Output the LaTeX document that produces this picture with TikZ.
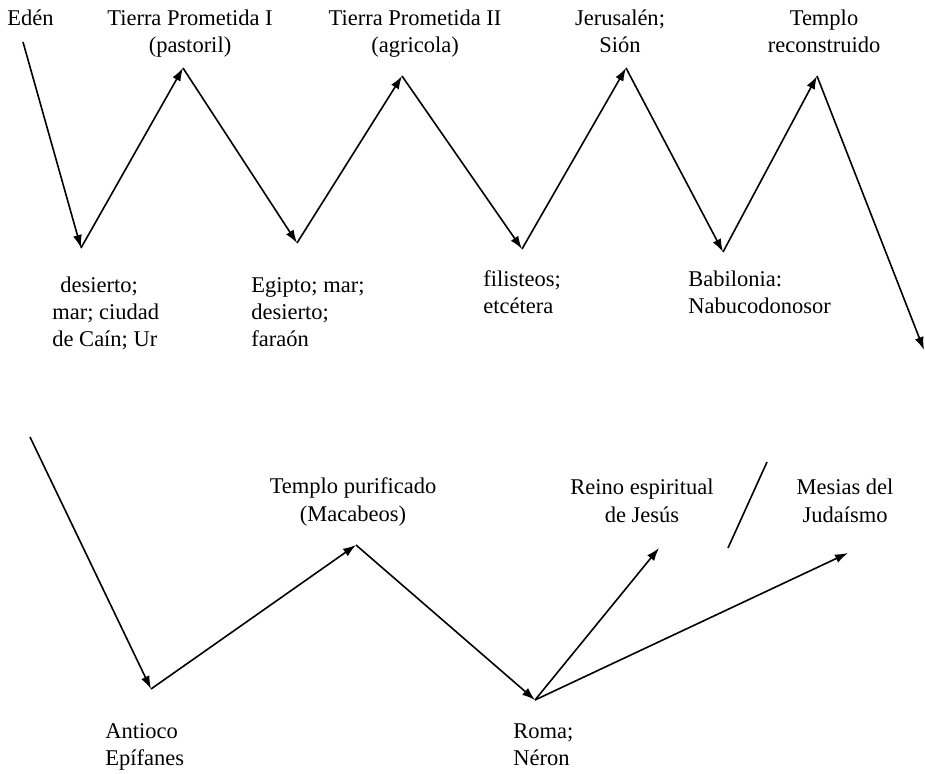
\documentclass[tikz,border=0pt]{standalone}
\usepackage{fontspec}
\setmainfont{Liberation Serif}
\usetikzlibrary{arrows.meta}

\begin{document}
\begin{tikzpicture}[x=0.5pt, y=-0.5pt, >={Latex[length=6.5pt,width=4.5pt]},
  every node/.style={inner sep=0pt, font=\fontsize{11.25}{13.5}\selectfont},
  lbl/.style={align=center, anchor=base},
  lbll/.style={align=left, anchor=base west},
  arr/.style={->, line width=0.8pt}]
\useasboundingbox (0,0) rectangle (925,774);
\coordinate (s0) at (23,42);
\coordinate (v1) at (81,248);
\coordinate (p1) at (183,68);
\coordinate (v2) at (297,243);
\coordinate (p2) at (402,76);
\coordinate (v3) at (522,249);
\coordinate (p3) at (626,68);
\coordinate (v4) at (723,252);
\coordinate (p4) at (817,76);
\coordinate (s1) at (924,350);
\coordinate (s2) at (30,437);
\coordinate (v5) at (151,689);
\coordinate (p5) at (356,545);
\coordinate (v6) at (535,700);
\coordinate (r1) at (659,548);
\coordinate (r2) at (848,553);
\coordinate (k1) at (767,462);
\coordinate (k2) at (728,548);
\node[lbll] (eden) at (7,26) {Edén};
\node[lbl] (tp1) at (190,53) {Tierra Prometida I\\(pastoril)};
\node[lbl] (tp2) at (415,53) {Tierra Prometida II\\(agricola)};
\node[lbl] (jer) at (620,53) {Jerusalén;\\Sión};
\node[lbl] (tem) at (824,53) {Templo\\reconstruido};
\node[lbll] (des) at (52,347) {\hspace*{4pt}desierto;\\mar; ciudad\\de Caín; Ur};
\node[lbll] (egi) at (251,347) {Egipto; mar;\\desierto;\\faraón};
\node[lbll] (fil) at (483,314) {filisteos;\\etcétera};
\node[lbll] (bab) at (688,314) {Babilonia:\\Nabucodonosor};
\node[lbl] (mac) at (353,521) {Templo purificado\\(Macabeos)};
\node[lbll] (ant) at (105,765) {Antioco\\Epífanes};
\node[lbl] (rei) at (642,522) {Reino espiritual\\de Jesús};
\node[lbl] (mes) at (845,522) {Mesias del\\Judaísmo};
\node[lbll] (rom) at (513,765) {Roma;\\Néron};
\draw[arr] (s0) -- (v1);
\draw[arr] (v1) -- (p1);
\draw[arr] (p1) -- (v2);
\draw[arr] (v2) -- (p2);
\draw[arr] (p2) -- (v3);
\draw[arr] (v3) -- (p3);
\draw[arr] (p3) -- (v4);
\draw[arr] (v4) -- (p4);
\draw[arr] (p4) -- (s1);
\draw[arr] (s2) -- (v5);
\draw[arr] (v5) -- (p5);
\draw[arr] (p5) -- (v6);
\draw[arr] (v6) -- (r1);
\draw[arr] (v6) -- (r2);
\draw[line width=0.8pt] (k1) -- (k2);
\end{tikzpicture}
\end{document}
